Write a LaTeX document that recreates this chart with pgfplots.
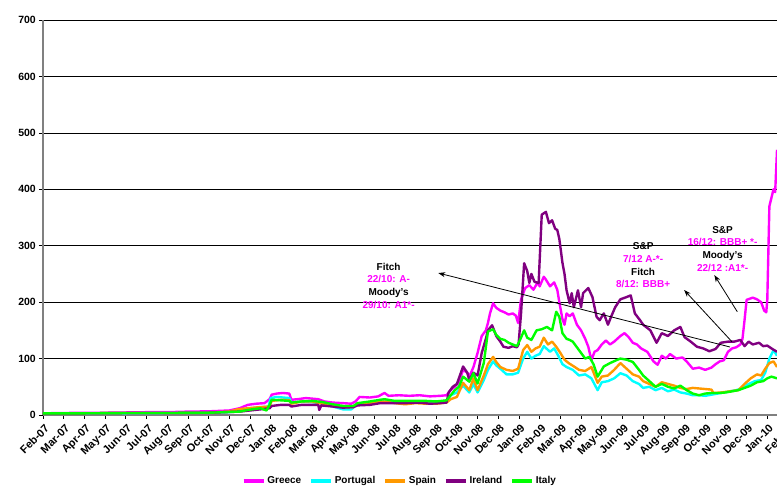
\documentclass[border=0pt]{standalone}
\usepackage{fontspec}
\setmainfont{Liberation Sans}
\usepackage{pgfplots}
\usepackage{pgfplotstable}
\pgfplotsset{compat=1.18}
\usetikzlibrary{arrows.meta}
\definecolor{cGR}{HTML}{FF00FF}
\definecolor{cPT}{HTML}{00FFFF}
\definecolor{cES}{HTML}{FF9900}
\definecolor{cIE}{HTML}{800080}
\definecolor{cIT}{HTML}{00FF00}
\definecolor{axgray}{HTML}{808080}

\pgfplotstableread{
m v
0 3
1 3.5
2 4
3 4
4 4.5
5 5
6 5
7 6
8 6.5
9 8
9.5 12
9.9 18
10.3 20
10.7 21
10.95 28
11.05 36
11.3 38
11.6 39
11.9 38
12.0 27
12.3 28
12.7 30
13.0 29
13.3 28
13.6 24
14.0 22
14.5 21
14.9 20
15.1 24
15.3 32
15.8 31
16.2 33
16.5 39
16.7 34
17.2 35
17.7 34
18.2 35
18.7 33
19.2 34
19.5 35
19.7 44
19.9 50
20.1 58
20.3 80
20.5 75
20.6 68
20.8 85
21.0 110
21.2 140
21.4 150
21.5 163
21.6 180
21.75 198
21.9 190
22.1 185
22.3 182
22.5 178
22.7 180
22.85 176
22.96 163
23.1 205
23.3 225
23.5 230
23.7 222
23.9 235
24.0 228
24.2 245
24.3 240
24.5 228
24.7 235
24.85 222
24.95 200
25.1 170
25.2 160
25.3 180
25.45 175
25.6 180
25.8 160
26.0 150
26.2 135
26.35 121
26.5 97
26.65 112
26.8 115
27.0 125
27.2 132
27.4 125
27.6 130
27.9 140
28.1 145
28.3 138
28.5 128
28.7 125
28.9 118
29.2 112
29.5 95
29.7 89
29.9 105
30.1 100
30.3 108
30.6 100
30.9 102
31.1 95
31.4 82
31.7 84
32.0 80
32.3 84
32.5 90
32.7 95
32.9 97
33.1 112
33.3 118
33.5 120
33.7 125
33.8 135
33.9 168
34.0 204
34.3 208
34.5 205
34.7 200
34.85 185
34.95 182
35.0 205
35.1 370
35.2 385
35.3 400
35.38 395
35.47 470
}\greece

\pgfplotstableread{
m v
0 2
2 2.5
4 3
6 3.5
8 4
9 5
9.5 8
10 12
10.9 15
11.0 30
11.3 32
11.9 30
12.0 22
12.5 24
13.0 23
13.5 20
14.0 15
14.5 10
14.9 10
15.2 20
15.8 22
16.3 24
17 23
18 24
19 23
19.5 25
19.7 35
20.0 40
20.3 52
20.6 40
20.8 55
21.0 40
21.3 62
21.5 80
21.75 95
21.9 88
22.1 82
22.4 72
22.7 72
22.96 75
23.2 100
23.4 112
23.6 100
23.8 105
24.0 108
24.2 122
24.5 112
24.7 118
24.9 105
25.1 90
25.3 85
25.6 80
25.9 70
26.2 72
26.5 65
26.8 44
27.0 58
27.3 60
27.6 65
27.9 74
28.2 70
28.5 60
28.8 55
29.0 48
29.3 50
29.6 44
29.9 48
30.2 42
30.5 45
30.8 40
31.1 38
31.4 35
31.7 35
32.0 34
32.3 36
32.6 38
32.9 40
33.2 42
33.5 44
33.8 48
34.1 55
34.4 60
34.7 62
34.9 75
35.1 100
35.3 115
35.47 105
}\portugal

\pgfplotstableread{
m v
0 3
2 3
4 3.5
6 3.5
8 4
9.0 6
9.4 10
9.9 12
10.5 14
10.95 15
11.05 25
11.5 27
11.9 26
12.0 20
12.5 24
13 24
13.5 20
14 17
14.5 14
15 14
15.2 20
16 22
16.5 24
17 21
17.5 19
18 21
18.5 20
19 20
19.5 22
19.7 28
20.0 32
20.3 57
20.6 44
20.8 65
21.0 44
21.3 70
21.5 90
21.75 103
21.9 94
22.1 85
22.4 80
22.7 78
22.96 82
23.2 115
23.4 124
23.6 112
23.8 118
24.0 121
24.2 137
24.4 125
24.6 130
24.8 121
25.0 110
25.2 98
25.4 92
25.7 85
25.9 80
26.2 78
26.5 85
26.8 57
27.0 68
27.3 70
27.6 80
27.9 92
28.2 82
28.5 72
28.8 68
29.0 60
29.3 55
29.6 50
29.9 58
30.2 55
30.5 52
30.8 48
31.1 46
31.4 48
31.7 47
32.0 46
32.3 45
32.4 39
32.8 40
33.2 42
33.6 44
33.9 55
34.2 65
34.5 72
34.7 70
34.9 82
35.1 92
35.3 95
35.47 85
}\spain

\pgfplotstableread{
m v
0 3
2 3
4 3.5
6 3.5
8 4
9.5 6
10 8
10.5 10
10.95 12
11.05 16
11.5 18
11.9 18
12.0 15
12.5 18
13 18
13.3 18
13.35 9
13.45 17
14 15
14.5 13
15 14
15.2 17
15.8 18
16.3 21
16.7 21
17.5 21
18.2 22
18.7 20
19.2 21
19.5 22
19.6 40
19.8 50
20.0 55
20.3 86
20.5 75
20.6 62
20.8 75
21.0 70
21.2 110
21.4 135
21.5 150
21.7 159
21.8 150
21.9 140
22.1 130
22.25 121
22.5 119
22.7 122
22.9 120
22.98 125
23.1 180
23.25 269
23.4 255
23.5 234
23.6 250
23.75 236
23.95 234
24.1 355
24.3 360
24.45 340
24.6 345
24.75 330
24.85 328
24.95 312
25.1 270
25.2 250
25.3 221
25.45 198
25.55 216
25.65 191
25.85 221
26.0 191
26.1 216
26.35 225
26.55 209
26.75 174
26.9 168
27.1 180
27.3 160
27.45 174
27.65 191
27.9 205
28.2 209
28.4 212
28.6 180
28.85 168
29.0 160
29.35 150
29.65 128
29.9 145
30.2 140
30.5 150
30.8 156
31.0 138
31.3 130
31.6 121
31.9 118
32.2 113
32.5 117
32.75 128
33.1 130
33.4 130
33.7 133
33.9 122
34.1 130
34.3 125
34.6 128
34.8 122
35.0 123
35.2 118
35.47 112
}\ireland

\pgfplotstableread{
m v
0 3
2 3
4 3.5
6 3.5
8 4
9.5 6
9.9 9
10.5 12
10.8 8
10.95 18
11.05 27
11.5 26
11.9 25
12.0 22
12.5 24
13 25
13.5 23
14 19
14.5 16
15 16
15.2 21
15.8 24
16.3 27
16.5 28
17 25
17.5 25
18 25
18.5 25
19 24
19.5 26
19.7 35
19.9 44
20.1 50
20.3 68
20.6 59
20.8 74
21.0 56
21.3 92
21.5 148
21.75 152
21.9 142
22.1 135
22.3 133
22.5 128
22.7 125
22.9 122
23.05 133
23.25 150
23.4 137
23.6 133
23.85 150
24.1 152
24.35 156
24.6 150
24.8 183
24.95 174
25.1 145
25.3 135
25.45 133
25.6 130
25.9 115
26.2 100
26.4 103
26.6 90
26.8 68
27.1 86
27.4 92
27.7 97
27.9 100
28.2 98
28.5 94
28.8 80
29.0 70
29.3 60
29.6 50
29.9 55
30.2 50
30.5 47
30.8 52
31.1 44
31.4 38
31.7 35
32.0 38
32.3 39
32.7 39
33.0 40
33.3 42
33.6 44
33.9 48
34.2 52
34.5 58
34.8 60
35.0 65
35.2 68
35.47 65
}\italy

\begin{document}
\begin{tikzpicture}
\begin{axis}[
  scale only axis,
  width=745pt, height=395pt,
  xmin=0, xmax=36, ymin=0, ymax=700,
  axis lines*=left,
  axis line style={axgray, line width=1.6pt},
  xtick={0,...,36},
  xticklabels={Feb-07,Mar-07,Apr-07,May-07,Jun-07,Jul-07,Aug-07,Sep-07,Oct-07,Nov-07,Dec-07,Jan-08,Feb-08,Mar-08,Apr-08,May-08,Jun-08,Jul-08,Aug-08,Sep-08,Oct-08,Nov-08,Dec-08,Jan-09,Feb-09,Mar-09,Apr-09,May-09,Jun-09,Jul-09,Aug-09,Sep-09,Oct-09,Nov-09,Dec-09,Jan-10,Feb-10},
  ytick={0,100,...,700},
  tick align=outside,
  major tick length=4pt,
  tick style={black, line width=0.6pt},
  ymajorgrids,
  grid style={black, line width=0.7pt},
  /pgf/number format/assume math mode=true,
  ticklabel style={font=\bfseries\fontsize{10.5}{12}\selectfont},
  xticklabel style={rotate=45, anchor=north east, inner sep=1pt, xshift=-1.5pt, yshift=-3pt, font=\bfseries\fontsize{11}{13}\selectfont},
  yticklabel style={inner sep=3pt},
  legend style={at={(rel axis cs:0.479,-0.167)}, anchor=center, draw=none, fill=none,
    legend columns=-1, font=\bfseries\fontsize{10}{12}\selectfont,
    /tikz/every even column/.append style={column sep=6pt}},
  legend image code/.code={\draw[#1, line width=3.5pt] (0pt,0pt) -- (20pt,0pt);},
  every axis plot/.append style={line width=2.4pt, line join=round},
]
\addplot[cGR] table[x=m,y=v] {\greece};
\addlegendentry{Greece}
\addplot[cPT] table[x=m,y=v] {\portugal};
\addlegendentry{Portugal}
\addplot[cES] table[x=m,y=v] {\spain};
\addlegendentry{Spain}
\addplot[cIE] table[x=m,y=v] {\ireland};
\addlegendentry{Ireland}
\addplot[cIT] table[x=m,y=v] {\italy};
\addlegendentry{Italy}

\draw[-{Stealth[length=7pt,width=5pt]}, line width=0.8pt] (axis cs:33.2,120.5) -- (axis cs:19.1,251.6);
\draw[-{Stealth[length=7pt,width=5pt]}, line width=0.8pt] (axis cs:33.29,129.9) -- (axis cs:30.98,221.5);
\draw[-{Stealth[length=7pt,width=5pt]}, line width=0.8pt] (axis cs:33.55,183) -- (axis cs:32.44,248);

\node[align=center, font=\bfseries\fontsize{10}{12.6}\selectfont] at (axis cs:16.7,229)
  {Fitch\\\textcolor{cGR}{22/10: A-}\\Moody's\\\textcolor{cGR}{29/10: A1*-}};
\node[align=center, font=\bfseries\fontsize{10}{12.6}\selectfont] at (axis cs:29.0,265)
  {S\&P\\\textcolor{cGR}{7/12 A-*-}\\Fitch\\\textcolor{cGR}{8/12: BBB+}};
\node[align=center, font=\bfseries\fontsize{10}{12.6}\selectfont] at (axis cs:32.84,294.5)
  {S\&P\\\textcolor{cGR}{16/12: BBB+ *-}\\Moody's\\\textcolor{cGR}{22/12 :A1*-}};

\coordinate (ll) at (rel axis cs:0,0);
\coordinate (ur) at (rel axis cs:1,1);
\end{axis}
\pgfresetboundingbox
\useasboundingbox ([xshift=-43pt,yshift=-72pt]ll) rectangle ([xshift=-11pt,yshift=20pt]ur);
\end{tikzpicture}
\end{document}
